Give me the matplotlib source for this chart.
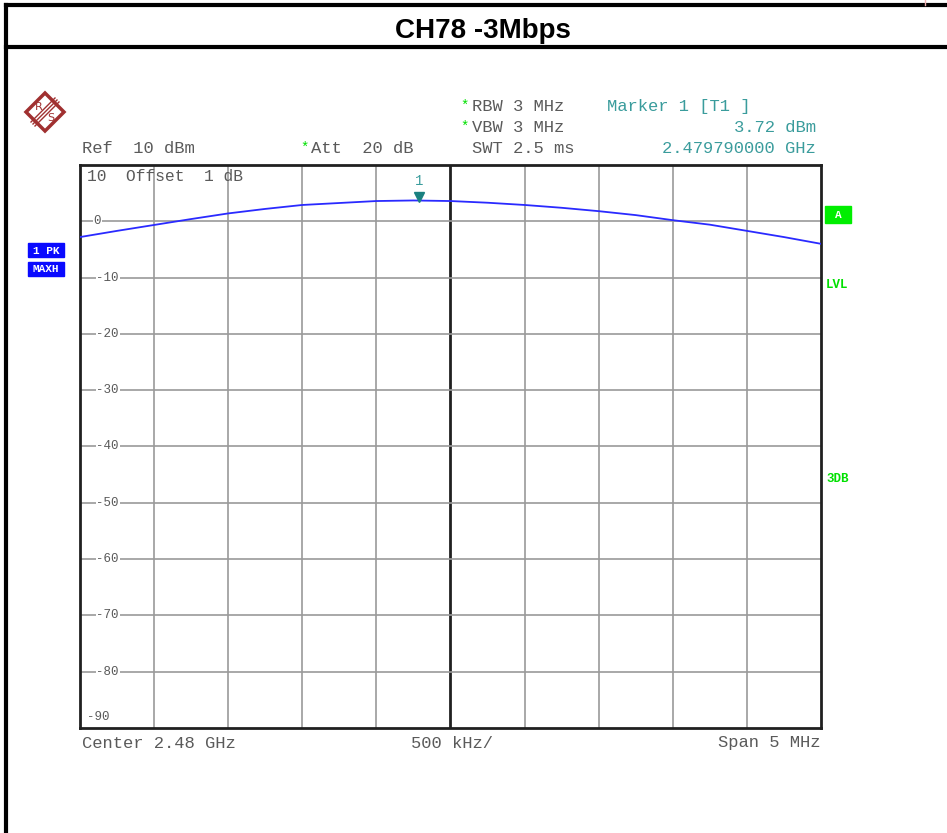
import matplotlib.pyplot as plt
from matplotlib.patches import Rectangle, Polygon
import numpy as np

# trace: offset from centre (MHz) and level (dBm)
offset_mhz = [-2.5, -2.25, -2.0, -1.75, -1.5, -1.25, -1.0, -0.75, -0.5, -0.25,
              0.0, 0.25, 0.5, 0.75, 1.0, 1.25, 1.5, 1.75, 2.0, 2.25, 2.5]
level_dbm = [-2.8, -1.7, -0.65, 0.4, 1.4, 2.2, 2.9, 3.25, 3.6, 3.7,
             3.6, 3.3, 2.9, 2.4, 1.8, 1.1, 0.2, -0.6, -1.7, -2.8, -4.0]
center_ghz = 2.48
span_mhz = 5.0
marker_ghz = 2.47979
marker_dbm = 3.72
y_ticks = [0, -10, -20, -30, -40, -50, -60, -70, -80]

W, H = 947, 833
fig = plt.figure(figsize=(W / 100, H / 100), dpi=100)

# full-figure layer in pixel coords (y down)
bg = fig.add_axes([0, 0, 1, 1])
bg.set_xlim(0, W)
bg.set_ylim(H, 0)
bg.axis('off')

mono = 'Liberation Mono'
grey = '#5a5a5a'
teal = '#3a9c9c'
green = '#00e000'

# table frame
bg.plot([6, W], [5, 5], color='black', lw=3)
bg.plot([6, W], [47, 47], color='black', lw=3)
bg.plot([6, 6], [5, H], color='black', lw=3)
bg.plot([925, 925], [0, 5], color='#f0b0b0', lw=1)
bg.text(483, 31, 'CH78 -3Mbps', fontsize=20, fontweight='bold',
        family='Liberation Sans', ha='center', va='center')

# R&S logo
cx, cy, r = 45, 112, 19
red = '#a03030'
bg.add_patch(Polygon([[cx, cy - r], [cx + r, cy], [cx, cy + r], [cx - r, cy]],
                     closed=True, fill=False, ec=red, lw=2.5))
for d in (-2, 0, 2):
    bg.plot([cx + 12 + d, cx - 12 + d], [cy - 12 + d, cy + 12 + d], color=red, lw=1)
bg.text(cx - 6, cy - 5, 'R', fontsize=8, color=red, ha='center', va='center')
bg.text(cx + 6, cy + 6, 'S', fontsize=8, color=red, ha='center', va='center')

# header texts
fs = 12.3
bg.text(300, 148, '*', family=mono, fontsize=10, color=green, va='center')
bg.text(82, 148, 'Ref  10 dBm', family=mono, fontsize=fs, color=grey, va='center')
bg.text(311, 148, 'Att  20 dB', family=mono, fontsize=fs, color=grey, va='center')
bg.text(460, 106, '*', family=mono, fontsize=10, color=green, va='center')
bg.text(472, 106, 'RBW 3 MHz', family=mono, fontsize=fs, color=grey, va='center')
bg.text(460, 127, '*', family=mono, fontsize=10, color=green, va='center')
bg.text(472, 127, 'VBW 3 MHz', family=mono, fontsize=fs, color=grey, va='center')
bg.text(472, 148, 'SWT 2.5 ms', family=mono, fontsize=fs, color=grey, va='center')
bg.text(607, 106, 'Marker 1 [T1 ]', family=mono, fontsize=fs, color=teal, va='center')
bg.text(816, 127, '%.2f dBm' % marker_dbm, family=mono, fontsize=fs, color=teal,
        va='center', ha='right')
bg.text(816, 148, '%.9f GHz' % marker_ghz, family=mono, fontsize=fs, color=teal,
        va='center', ha='right')

# bottom texts
bg.text(82, 743, 'Center %.2f GHz' % center_ghz, family=mono, fontsize=fs, color=grey, va='center')
bg.text(411, 743, '500 kHz/', family=mono, fontsize=fs, color=grey, va='center')
bg.text(820, 743, 'Span %g MHz' % span_mhz, family=mono, fontsize=fs, color=grey,
        va='center', ha='right')

# side labels
for y0, txt in ((243, '1 PK'), (262, 'MAXH')):
    bg.add_patch(Rectangle((28, y0), 36, 14, color='#0a0aff'))
    bg.text(46, y0 + 7.5, txt, family=mono, fontsize=8, fontweight='bold',
            color='white', ha='center', va='center')
bg.add_patch(Rectangle((825, 206), 26, 17, color='#00ee00'))
bg.text(838, 214.5, 'A', family=mono, fontsize=8, fontweight='bold', color='white',
        ha='center', va='center')
bg.text(826, 285, 'LVL', family=mono, fontsize=9, fontweight='bold', color=green, va='center')
bg.text(826, 479, '3DB', family=mono, fontsize=9, fontweight='bold', color=green, va='center')

# trace axes
x0, x1, y0, y1 = 80, 821, 165, 728
ax = fig.add_axes([x0 / W, 1 - y1 / H, (x1 - x0) / W, (y1 - y0) / H])
freq = center_ghz + np.array(offset_mhz) / 1000.0
fmin = center_ghz - span_mhz / 2000.0
fmax = center_ghz + span_mhz / 2000.0
ax.set_xlim(fmin, fmax)
ax.set_ylim(-90, 10)
ax.set_xticks([])
ax.set_yticks([])
for s in ax.spines.values():
    s.set_linewidth(2)
    s.set_color('#202020')

for i in range(1, 10):
    f = fmin + i * (fmax - fmin) / 10
    if i == 5:
        ax.axvline(f, color='#202020', lw=2, zorder=1)
    else:
        ax.axvline(f, color='#9a9a9a', lw=1.2, zorder=1)
for v in y_ticks:
    ax.axhline(v, color='#9a9a9a', lw=1.2, zorder=1)
    ax.text(fmin + 0.00009 if v == 0 else fmin + 0.00011, v, str(v),
            family=mono, fontsize=9, color=grey, va='center',
            bbox=dict(fc='white', ec='none', pad=0.5), zorder=2)
ax.text(fmin + 0.00005, 8, '10  Offset  1 dB', family=mono, fontsize=fs * 0.95,
        color=grey, va='center', zorder=2)
ax.text(fmin + 0.00005, -88, '-90', family=mono, fontsize=9, color=grey, va='center', zorder=2)

ax.plot(freq, level_dbm, color='#2a2aff', lw=1.3, zorder=3)
ax.plot(marker_ghz, marker_dbm + 0.6, marker='v', color='#1a8080', ms=7, zorder=4)
ax.text(marker_ghz, marker_dbm + 3.5, '1', family=mono, fontsize=10, color=teal,
        ha='center', va='center', zorder=4)

fig.savefig('out.png', dpi=100)
